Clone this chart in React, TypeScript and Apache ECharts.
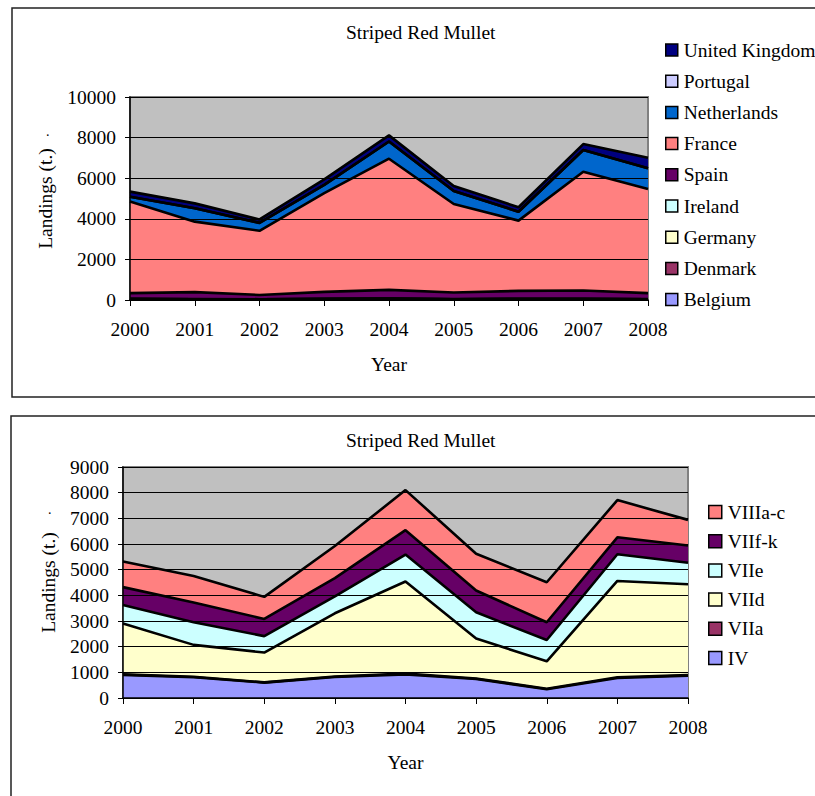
import React, { useEffect, useRef } from "react";
import * as echarts from "echarts";

// Years on the category axis
const years = ["2000", "2001", "2002", "2003", "2004", "2005", "2006", "2007", "2008"];

// Landings by country (t.), stacked bottom to top
const belgium = [50, 40, 40, 50, 60, 40, 50, 50, 40];
const denmark = [0, 0, 0, 0, 0, 0, 0, 0, 0];
const germany = [0, 0, 0, 0, 0, 0, 0, 0, 0];
const ireland = [10, 10, 0, 10, 10, 10, 10, 10, 10];
const spain = [280, 340, 210, 340, 430, 320, 390, 410, 290];
const france = [4510, 3470, 3160, 4860, 6460, 4360, 3460, 5850, 5130];
const netherlands = [240, 660, 390, 410, 850, 640, 440, 1070, 1020];
const portugal = [0, 0, 0, 0, 0, 0, 0, 0, 0];
const unitedKingdom = [250, 240, 170, 270, 300, 250, 220, 290, 520];

// Landings by ICES area (t.), stacked bottom to top
const areaIV = [900, 810, 600, 820, 920, 740, 340, 780, 870];
const areaVIIa = [20, 20, 10, 20, 30, 20, 20, 30, 20];
const areaVIId = [1980, 1240, 1160, 2460, 3590, 1560, 1070, 3750, 3540];
const areaVIIe = [720, 880, 640, 660, 1050, 1020, 830, 1040, 840];
const areaVIIfk = [700, 770, 670, 710, 950, 850, 690, 660, 670];
const areaVIIIac = [1000, 1030, 860, 1250, 1560, 1430, 1560, 1450, 1000];

const countrySeries = [
  { name: "Belgium", data: belgium, color: "#9999FF" },
  { name: "Denmark", data: denmark, color: "#993366" },
  { name: "Germany", data: germany, color: "#FFFFCC" },
  { name: "Ireland", data: ireland, color: "#CCFFFF" },
  { name: "Spain", data: spain, color: "#660066" },
  { name: "France", data: france, color: "#FF8080" },
  { name: "Netherlands", data: netherlands, color: "#0066CC" },
  { name: "Portugal", data: portugal, color: "#CCCCFF" },
  { name: "United Kingdom", data: unitedKingdom, color: "#000080" },
];

const areaSeries = [
  { name: "IV", data: areaIV, color: "#9999FF" },
  { name: "VIIa", data: areaVIIa, color: "#993366" },
  { name: "VIId", data: areaVIId, color: "#FFFFCC" },
  { name: "VIIe", data: areaVIIe, color: "#CCFFFF" },
  { name: "VIIf-k", data: areaVIIfk, color: "#660066" },
  { name: "VIIIa-c", data: areaVIIIac, color: "#FF8080" },
];

const FONT = "'Liberation Serif', 'Times New Roman', serif";
const FS = 19.5;

type Layer = { name: string; data: number[]; color: string };

// Filled layers plus a separate black outline per layer drawn above all fills
function buildSeries(layers: Layer[], idx: number) {
  const fills = layers.map((l) => ({
    name: l.name,
    type: "line",
    stack: "fill" + idx,
    xAxisIndex: idx,
    yAxisIndex: idx,
    data: l.data,
    symbol: "none",
    showSymbol: false,
    lineStyle: { color: l.color, width: 0 },
    itemStyle: { color: l.color },
    areaStyle: { color: l.color, opacity: 1 },
    emphasis: { disabled: true },
    silent: true,
    z: 2,
  }));
  const outlines = layers.map((l) => ({
    name: l.name + " edge",
    type: "line",
    stack: "edge" + idx,
    xAxisIndex: idx,
    yAxisIndex: idx,
    data: l.data,
    symbol: "none",
    showSymbol: false,
    lineStyle: { color: "#000", width: 2.6 },
    emphasis: { disabled: true },
    silent: true,
    z: 3,
  }));
  return [...fills, ...outlines];
}

function buildLegend(layers: Layer[], left: number, top: number, size: number, gap: number) {
  return {
    orient: "vertical",
    left,
    top,
    icon: "rect",
    itemWidth: size,
    itemHeight: size,
    itemGap: gap,
    selectedMode: false,
    itemStyle: { borderColor: "#000", borderWidth: 1.5 },
    textStyle: { fontFamily: FONT, fontSize: FS, color: "#000", lineHeight: 20, padding: [0, 0, 0, 1] },
    data: [...layers].reverse().map((l) => ({ name: l.name, itemStyle: { color: l.color } })),
  };
}

const axisText = { fontFamily: FONT, fontSize: FS, color: "#000" };

function xAxis(idx: number) {
  return {
    type: "category",
    gridIndex: idx,
    data: years,
    boundaryGap: false,
    z: 10,
    axisLine: { show: true, lineStyle: { color: "#000", width: 1.5 } },
    axisTick: { show: true, length: 6, lineStyle: { color: "#000", width: 1 } },
    axisLabel: { ...axisText, margin: 19 },
    name: "Year",
    nameLocation: "middle",
    nameGap: 54,
    nameTextStyle: axisText,
    splitLine: { show: false },
  };
}

function yAxis(idx: number, max: number, interval: number, gap: number) {
  return {
    type: "value",
    gridIndex: idx,
    min: 0,
    max,
    interval,
    z: 10,
    axisLine: { show: true, lineStyle: { color: "#000", width: 1.5 } },
    axisTick: { show: true, length: 5, lineStyle: { color: "#000", width: 1 } },
    axisLabel: { ...axisText, margin: 14, formatter: (v: number) => String(v) },
    splitLine: { show: true, lineStyle: { color: "#000", width: 1 } },
    name: "Landings (t.)",
    nameLocation: "middle",
    nameGap: gap,
    nameTextStyle: axisText,
  };
}

export default function App() {
  const ref = useRef<HTMLDivElement>(null);

  useEffect(() => {
    const chart = echarts.init(ref.current!, null, { renderer: "svg" });
    chart.setOption({
      animation: false,
      backgroundColor: "#fff",
      title: [
        { text: "Striped Red Mullet", left: 341, top: 17, textStyle: { ...axisText, fontWeight: "normal" } },
        { text: "Striped Red Mullet", left: 341, top: 425, textStyle: { ...axisText, fontWeight: "normal" } },
      ],
      grid: [
        { left: 130, top: 97, width: 518, height: 203, show: true, backgroundColor: "#C0C0C0", borderColor: "#808080", borderWidth: 2 },
        { left: 123, top: 467, width: 565, height: 231, show: true, backgroundColor: "#C0C0C0", borderColor: "#808080", borderWidth: 2 },
      ],
      legend: [
        buildLegend(countrySeries, 660, 35, 12, 11.2),
        buildLegend(areaSeries, 703, 497, 13, 9.2),
      ],
      xAxis: [xAxis(0), xAxis(1)],
      yAxis: [yAxis(0, 10000, 2000, 75), yAxis(1, 9000, 1000, 65)],
      series: [...buildSeries(countrySeries, 0), ...buildSeries(areaSeries, 1)],
      graphic: [
        { type: "rect", shape: { x: 12, y: 8, width: 830, height: 389 }, style: { fill: "none", stroke: "#222", lineWidth: 1.5 }, silent: true },
        { type: "rect", shape: { x: 11, y: 416, width: 830, height: 400 }, style: { fill: "none", stroke: "#222", lineWidth: 1.5 }, silent: true },
        { type: "text", x: 46, y: 124, style: { text: ".", font: `14px ${FONT}`, fill: "#000" }, silent: true },
        { type: "text", x: 48, y: 502, style: { text: ".", font: `14px ${FONT}`, fill: "#000" }, silent: true },
      ],
    });
    return () => chart.dispose();
  }, []);

  return (
    <div
      ref={ref}
      style={{ position: "absolute", left: 0, top: 0, width: 815, height: 796 }}
    />
  );
}
